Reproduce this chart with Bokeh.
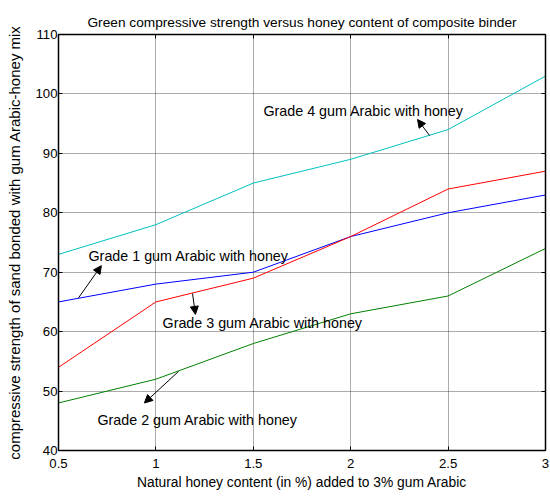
from bokeh.plotting import figure
from bokeh.models import Range1d, FixedTicker, LinearAxis, Label, Arrow, NormalHead
from bokeh.embed import file_html
from bokeh.resources import INLINE

# ---- data ----
honey = [0.5, 1.0, 1.5, 2.0, 2.5, 3.0]
grade1 = [65, 68, 70, 76, 80, 83]
grade2 = [48, 52, 58, 63, 66, 74]
grade3 = [54, 65, 69, 76, 84, 87]
grade4 = [73, 78, 85, 89, 94, 103]

x_ticks = [0.5, 1, 1.5, 2, 2.5, 3]
x_tick_labels = ["0.5", "1", "1.5", "2", "2.5", "3"]
y_ticks = [40, 50, 60, 70, 80, 90, 100, 110]

series_names = ["Grade 1", "Grade 2", "Grade 3", "Grade 4"]
series_colors = ["#0000FF", "#008000", "#FF0000", "#00BFBF"]

# annotation text anchors (data units) and arrows (tail -> head)
label_texts = ["Grade 4 gum Arabic with honey", "Grade 1 gum Arabic with honey",
               "Grade 3 gum Arabic with honey", "Grade 2 gum Arabic with honey"]
label_x = [1.552, 0.654, 1.034, 0.70]
label_y = [97.2, 72.8, 61.5, 45.2]
arrow_x0 = [2.405, 0.603, 1.188, 1.116]
arrow_y0 = [93.0, 65.7, 66.4, 53.3]
arrow_x1 = [2.343, 0.720, 1.203, 0.941]
arrow_y1 = [95.7, 71.1, 62.9, 48.0]

FONT = "Liberation Sans"

p = figure(frame_width=487, frame_height=416,
           x_range=Range1d(0.5, 3), y_range=Range1d(40, 110),
           output_backend="svg", toolbar_location=None,
           title="Green compressive strength versus honey content of composite binder",
           min_border_left=58, min_border_right=5, min_border_top=34, min_border_bottom=46)

p.title.align = "center"
p.title.text_font = FONT
p.title.text_font_size = "13.7px"
p.title.text_font_style = "normal"
p.title.text_color = "black"
p.title.standoff = 9

p.background_fill_color = "white"
p.border_fill_color = "white"
p.outline_line_color = "black"
p.outline_line_width = 1

for s, c in zip([grade1, grade2, grade3, grade4], series_colors):
    p.line(honey, s, line_color=c, line_width=1)

for ax in (p.xaxis[0], p.yaxis[0]):
    ax.major_label_text_font = FONT
    ax.major_label_text_font_size = "13.2px"
    ax.major_label_text_color = "black"
    ax.axis_label_text_font = FONT
    ax.axis_label_text_font_style = "normal"
    ax.axis_label_text_color = "black"
    ax.axis_line_color = "black"
    ax.axis_line_width = 1.5
    ax.major_tick_in = 4
    ax.major_tick_out = 0
    ax.minor_tick_in = 0
    ax.minor_tick_out = 0
    ax.major_tick_line_color = "black"

p.xaxis[0].ticker = FixedTicker(ticks=x_ticks)
p.xaxis[0].major_label_overrides = {t: l for t, l in zip(x_ticks, x_tick_labels)}
p.xaxis[0].major_label_standoff = 8
p.yaxis[0].ticker = FixedTicker(ticks=y_ticks)
p.yaxis[0].major_label_standoff = 1
p.xaxis[0].axis_label = "Natural honey content (in %) added to 3% gum Arabic"
p.xaxis[0].axis_label_text_font_size = "13.8px"
p.xaxis[0].axis_label_standoff = 4
p.yaxis[0].axis_label = "compressive strength of sand bonded with gum Arabic-honey mix"
p.yaxis[0].axis_label_text_font_size = "15px"
p.yaxis[0].axis_label_standoff = 9

for loc, tick in (("right", y_ticks), ("above", x_ticks)):
    a = LinearAxis(ticker=FixedTicker(ticks=tick),
                   major_label_overrides={t: "" for t in tick},
                   major_tick_in=4, major_tick_out=0, minor_tick_in=0, minor_tick_out=0,
                   major_label_standoff=0, axis_line_color="black", axis_line_width=1.5,
                   major_tick_line_color="black")
    p.add_layout(a, loc)

p.xgrid.ticker = FixedTicker(ticks=x_ticks)
p.ygrid.ticker = FixedTicker(ticks=y_ticks)
p.grid.grid_line_color = "black"
p.grid.grid_line_alpha = 0.65
p.grid.grid_line_dash = "1 1"
p.grid.grid_line_width = 1

for t, lx, ly in zip(label_texts, label_x, label_y):
    p.add_layout(Label(x=lx, y=ly, text=t, text_font=FONT, text_font_size="14.3px",
                       text_baseline="middle", text_align="left", text_color="black"))

for x0, y0, x1, y1 in zip(arrow_x0, arrow_y0, arrow_x1, arrow_y1):
    p.add_layout(Arrow(end=NormalHead(size=8, fill_color="black", line_color="black"),
                       x_start=x0, y_start=y0, x_end=x1, y_end=y1,
                       line_color="black", line_width=1))

open("out.html", "w").write(file_html(p, INLINE))
